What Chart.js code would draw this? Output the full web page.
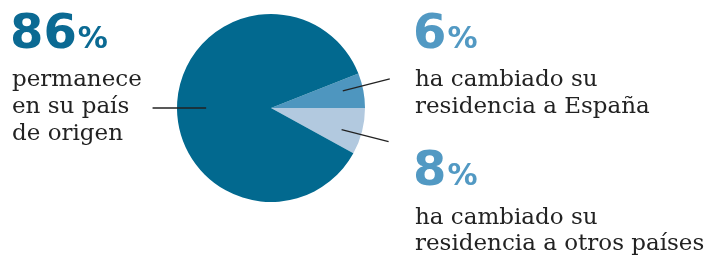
<!DOCTYPE html>
<html><head><meta charset="utf-8">
<script src="https://cdn.jsdelivr.net/npm/chart.js@4/dist/chart.umd.min.js"></script>
<style>html,body{margin:0;padding:0;background:#fff;}#wrap{width:719px;height:257px;position:relative;}</style>
</head><body><div id="wrap"><canvas id="c" width="719" height="257"></canvas></div>
<script>
const categories = ["ha cambiado su residencia a España", "ha cambiado su residencia a otros países", "permanece en su país de origen"];
const values = [6, 8, 86];
const valueLabels = ["6", "8", "86"];
const descLines = [
  ["ha cambiado su", "residencia a España"],
  ["ha cambiado su", "residencia a otros países"],
  ["permanece", "en su país", "de origen"]
];
const colors = ["#4e96bf", "#b2c9df", "#02698f"];
const numColors = ["#5299c3", "#5299c3", "#0b6a93"];

// text block placement: [x, numberBaseline, firstLineBaseline, lineHeight]
const blocks = [
  {x: 415, nb: 48, lb: 86, lh: 27},
  {x: 415, nb: 185, lb: 224, lh: 26},
  {x: 12, nb: 48, lb: 86, lh: 27}
];

const labelPlugin = {
  id: 'labels',
  afterDraw(chart) {
    const ctx = chart.ctx;
    const meta = chart.getDatasetMeta(0);
    ctx.save();
    meta.data.forEach((arc, i) => {
      const p = arc.getProps(['x','y','startAngle','endAngle','outerRadius'], true);
      const R = p.outerRadius;
      ctx.strokeStyle = '#222';
      ctx.lineWidth = 1.3;
      ctx.beginPath();
      if (i === 2) {
        ctx.moveTo(p.x - R * 0.69, p.y);
        ctx.lineTo(p.x - R * 1.26, p.y);
      } else {
        const a = (p.startAngle + p.endAngle) / 2;
        const dirSign = i === 0 ? -1 : 1;
        const ang = a + dirSign * 0.045;
        const ix = p.x + Math.cos(ang) * R * 0.785;
        const iy = p.y + Math.sin(ang) * R * 0.785;
        ctx.moveTo(ix, iy);
        ctx.lineTo(ix + 47, iy + dirSign * 12);
      }
      ctx.stroke();

      const b = blocks[i];
      ctx.fillStyle = numColors[i];
      ctx.textBaseline = 'alphabetic';
      ctx.textAlign = 'left';
      ctx.font = 'bold 48px "DejaVu Sans"';
      ctx.fillText(valueLabels[i], b.x - 2, b.nb);
      const w = ctx.measureText(valueLabels[i]).width;
      ctx.font = 'bold 30px "DejaVu Sans"';
      ctx.fillText('%', b.x - 2 + w + 1, b.nb);
      ctx.fillStyle = '#222';
      ctx.font = '23px "DejaVu Serif"';
      descLines[i].forEach((t, k) => ctx.fillText(t, b.x, b.lb + k * b.lh));
    });
    ctx.restore();
  }
};

new Chart(document.getElementById('c'), {
  type: 'pie',
  data: {
    labels: categories,
    datasets: [{ data: values, backgroundColor: colors, borderWidth: 0, hoverOffset: 0 }]
  },
  options: {
    responsive: false,
    animation: false,
    rotation: 90 - values[0] * 3.6,
    layout: { padding: { left: 177, right: 354, top: 14, bottom: 55 } },
    plugins: { legend: { display: false }, tooltip: { enabled: false } }
  },
  plugins: [labelPlugin]
});
</script>
</body></html>
